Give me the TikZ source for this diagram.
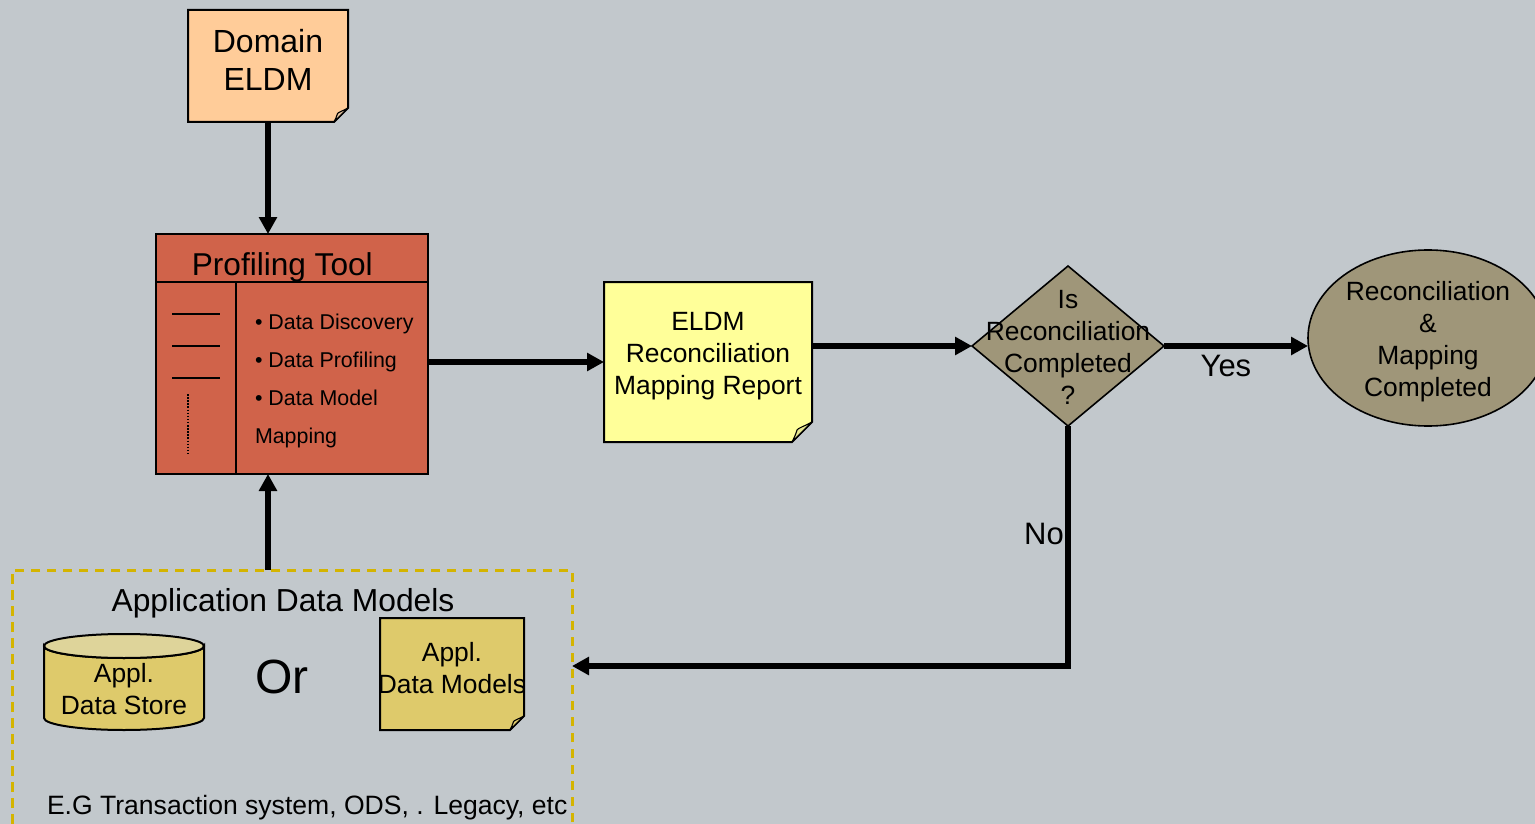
\documentclass[tikz,border=0pt]{standalone}
\usepackage{fontspec}
\setmainfont{Liberation Sans}
\usetikzlibrary{arrows.meta,shapes.geometric,backgrounds,calc}
\definecolor{pagebg}{HTML}{C2C8CC}
\definecolor{peach}{HTML}{FFCC99}
\definecolor{peachfold}{HTML}{E3C29E}
\definecolor{toolred}{HTML}{D0634A}
\definecolor{paleyellow}{HTML}{FFFF99}
\definecolor{paleyellowfold}{HTML}{E6E68F}
\definecolor{khaki}{HTML}{9F9679}
\definecolor{gold}{HTML}{DECA6B}
\definecolor{goldtop}{HTML}{DED49A}
\definecolor{dashgold}{HTML}{D4B400}
\newcommand{\fs}[2]{\fontsize{#1pt}{#2pt}\selectfont}
\tikzset{
  x=1pt,y=-1pt,
  label text/.style={inner sep=0pt,outer sep=0pt,align=center,text=black},
  outline/.style={draw=black,line width=2pt},
  thinrule/.style={draw=black,line width=1.6pt},
  flow/.style={draw=black,line width=5.4pt,-{Triangle[length=17pt,width=17.5pt]}},
  flowplain/.style={draw=black,line width=5.4pt},
}
% #1 node, #2 fold size (plain number), #3 fill, #4 fold fill
\newcommand{\notepage}[4]{%
  \begin{pgfonlayer}{background}
    \path[outline,fill=#3,line join=miter]
      (#1.north west) -- (#1.north east) -- ($(#1.south east)+(0,-#2)$)
      -- ($(#1.south east)+(-#2,0)$) -- (#1.south west) -- cycle;
    \path[draw=black,line width=1.1pt,fill=#4,line join=round]
      ($(#1.south east)+(0,-#2)$) .. controls ($(#1.south east)+(-0.35*#2,-0.8*#2)$) and ($(#1.south east)+(-0.7*#2,-0.7*#2)$) .. ($(#1.south east)+(-0.75*#2,-0.6*#2)$)
      .. controls ($(#1.south east)+(-0.8*#2,-0.4*#2)$) and ($(#1.south east)+(-0.9*#2,-0.2*#2)$) .. ($(#1.south east)+(-#2,0)$) -- cycle;
  \end{pgfonlayer}}
\begin{document}
\begin{tikzpicture}
\clip (0,0) rectangle (1535,824);
\useasboundingbox (0,0) rectangle (1535,824);
\begin{pgfonlayer}{background}
  \fill[pagebg] (0,0) rectangle (1535,824);
\end{pgfonlayer}

% Domain ELDM
\node[inner sep=0pt,outer sep=0pt,minimum width=160pt,minimum height=112pt] (domain) at (268,66) {};
\notepage{domain}{14}{peach}{peachfold}
\node[label text,font=\fs{32}{38}] (domaintext) at (268,60) {Domain\\ELDM};

% Profiling tool
\node[inner sep=0pt,outer sep=0pt,minimum width=272pt,minimum height=240pt,draw=black,line width=2pt,fill=toolred] (tool) at (292,354) {};
\coordinate (titleleft) at (156,282);
\coordinate (titleright) at (428,282);
\coordinate (divtop) at (236,282);
\coordinate (divbottom) at (236,474);
\draw[thinrule] (titleleft) -- (titleright);
\draw[thinrule] (divtop) -- (divbottom);
\foreach \yy/\nm in {314/a,346/b,378/c}{
  \coordinate (rule\nm l) at (172,\yy);
  \coordinate (rule\nm r) at (220,\yy);
  \draw[thinrule] (rule\nm l) -- (rule\nm r);
}
\coordinate (dottop) at (188,394);
\coordinate (dotbottom) at (188,456);
\draw[draw=black,line width=1.5pt,dash pattern=on 1.5pt off 1.6pt] (dottop) -- (dotbottom);
\node[label text,font=\fs{31.6}{38}] (tooltitle) at (282.3,267) {Profiling Tool};
\node[label text,font=\fs{21.4}{38.3},align=left,anchor=north west] (toolbullets) at (255,313.5) {• Data Discovery\\• Data Profiling\\• Data Model\\Mapping};

% Report
\node[inner sep=0pt,outer sep=0pt,minimum width=208pt,minimum height=160pt] (report) at (708,362) {};
\notepage{report}{20}{paleyellow}{paleyellowfold}
\node[label text,font=\fs{26.4}{32}] (reporttext) at (708,356) {ELDM\\Reconciliation\\Mapping Report};

% Decision
\node[diamond,aspect=1.2,inner sep=0pt,outer sep=0pt,minimum width=192pt,minimum height=160pt,draw=black,line width=1.6pt,fill=khaki] (decision) at (1068,346) {};
\node[label text,font=\fs{26.4}{32}] (decisiontext) at (1068,347) {Is\\Reconciliation\\Completed\\?};

% End state
\node[ellipse,inner sep=0pt,outer sep=0pt,minimum width=240pt,minimum height=176pt,draw=black,line width=1.6pt,fill=khaki] (done) at (1428,338) {};
\node[label text,font=\fs{26.4}{32}] (donetext) at (1428,342) {Reconciliation\\\&\\Mapping\\Completed};

% Application data models frame
\node[inner sep=0pt,outer sep=0pt,minimum width=560pt,minimum height=300pt,draw=dashgold,line width=3pt,dash pattern=on 9.5pt off 6.5pt] (models) at (292,720) {};
\node[label text,font=\fs{31.8}{38}] (modelstitle) at (283,603) {Application Data Models};

% Cylinder
\node[inner sep=0pt,outer sep=0pt,minimum width=160pt,minimum height=96pt] (store) at (124,682) {};
\path[outline,fill=gold]
  ($(store.north west)+(0,12)$) -- ($(store.south west)+(0,-12)$)
  arc[start angle=180,end angle=360,x radius=80,y radius=-12]
  -- ($(store.north east)+(0,12)$)
  arc[start angle=0,end angle=-180,x radius=80,y radius=-12] -- cycle;
\path[outline,fill=goldtop] ($(store.north)+(0,12)$) ellipse[x radius=80,y radius=12];
\node[label text,font=\fs{26.4}{32}] (storetext) at (124,689) {Appl.\\Data Store};

\node[label text,font=\fs{48}{54}] (ortext) at (282,677) {Or};

% Appl. data models note
\node[inner sep=0pt,outer sep=0pt,minimum width=144pt,minimum height=112pt] (applnote) at (452,674) {};
\notepage{applnote}{14}{gold}{gold}
\node[label text,font=\fs{26.4}{32}] (appltext) at (452,668) {Appl.\\Data Models};

\node[label text,font=\fs{26.55}{32},anchor=west] (egtext) at (47,808) {E.G Transaction system, ODS, . Legacy, etc};

% Connectors
\draw[flow] (domain.south) -- (tool.north -| domain.south);
\coordinate (toolentry) at (268,474);
\draw[flow] (models.north -| toolentry) -- (toolentry);
\draw[flow] (report.west -| tool.east) -- (report.west);
\draw[flow] (report.east |- decision.west) -- (decision.west);
\draw[flow] (decision.east) -- (done.west |- decision.east) node[pos=0.43,below=9pt,label text,font=\fs{31}{34}] (yestext) {Yes};
\coordinate (loopcorner) at (1068,666);
\coordinate (loopend) at (572,666);
\draw[flowplain,line cap=butt] (decision.south) -- (loopcorner);
\draw[flow] ($(loopcorner)+(2.7,0)$) -- (loopend);
\node[label text,font=\fs{31}{34}] (notext) at (1044,534) {No};
\end{tikzpicture}
\end{document}
